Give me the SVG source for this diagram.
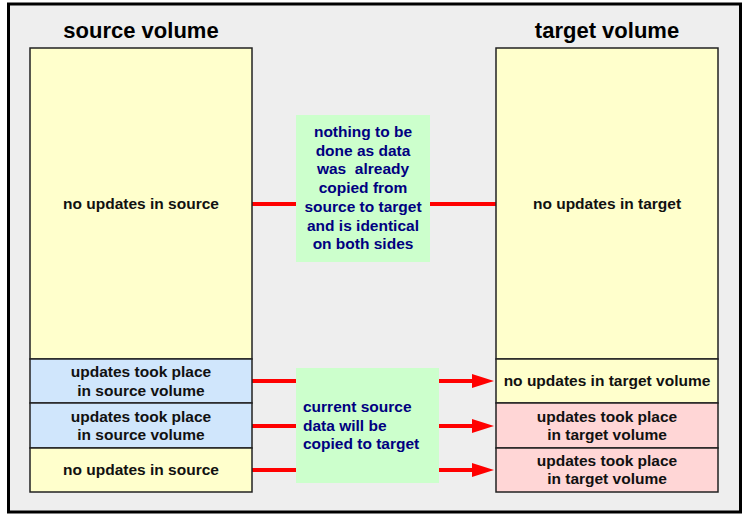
<svg xmlns="http://www.w3.org/2000/svg" width="743" height="514" viewBox="0 0 743 514">
<style>
.title{font-family:"Liberation Sans",Arial,sans-serif;font-size:22px;font-weight:bold;fill:#000;text-anchor:middle}
.cell{stroke:#222;stroke-width:1.5}
.y{fill:#ffffcc}.b{fill:#d0e6fc}.p{fill:#ffd6d6}.g{fill:#ccffcc}
.t{font-family:"Liberation Sans",Arial,sans-serif;font-size:15.5px;font-weight:bold;fill:#111;text-anchor:middle}
.n{font-family:"Liberation Sans",Arial,sans-serif;font-size:15.5px;font-weight:bold;fill:#000080}
.c{text-anchor:middle}
.line{stroke:#ff0000;stroke-width:4;fill:none}
</style>
<defs>
<marker id="ah" markerUnits="userSpaceOnUse" markerWidth="22" markerHeight="14" refX="2" refY="7" orient="auto">
<path d="M0,0 L22,7 L0,14 z" fill="#ff0000"/>
</marker>
</defs>
<rect x="8.5" y="4" width="732" height="508" fill="#eeeeee" stroke="#000" stroke-width="3"/>
<text class="title" x="141" y="38">source volume</text>
<text class="title" x="607" y="38">target volume</text>
<g id="connectors">
<line class="line" x1="252" y1="204" x2="496" y2="204"/>
<line class="line" x1="252" y1="381" x2="300" y2="381"/>
<line class="line" x1="252" y1="426" x2="300" y2="426"/>
<line class="line" x1="252" y1="470" x2="300" y2="470"/>
<line class="line" x1="436" y1="381" x2="474" y2="381" marker-end="url(#ah)"/>
<line class="line" x1="436" y1="426" x2="474" y2="426" marker-end="url(#ah)"/>
<line class="line" x1="436" y1="470" x2="474" y2="470" marker-end="url(#ah)"/>
</g>
<g id="src1"><rect class="cell y" x="30" y="48" width="222" height="311"/><text class="t" x="141" y="209">no updates in source</text></g>
<g id="src2"><rect class="cell b" x="30" y="359" width="222" height="44"/><text class="t" x="141" y="377">updates took place</text><text class="t" x="141" y="395.5">in source volume</text></g>
<g id="src3"><rect class="cell b" x="30" y="403" width="222" height="45"/><text class="t" x="141" y="421.5">updates took place</text><text class="t" x="141" y="440">in source volume</text></g>
<g id="src4"><rect class="cell y" x="30" y="448" width="222" height="44"/><text class="t" x="141" y="474.5">no updates in source</text></g>
<g id="tgt1"><rect class="cell y" x="496" y="48" width="222" height="311"/><text class="t" x="607" y="209">no updates in target</text></g>
<g id="tgt2"><rect class="cell y" x="496" y="359" width="222" height="44"/><text class="t" x="607" y="386">no updates in target volume</text></g>
<g id="tgt3"><rect class="cell p" x="496" y="403" width="222" height="45"/><text class="t" x="607" y="421.5">updates took place</text><text class="t" x="607" y="440">in target volume</text></g>
<g id="tgt4"><rect class="cell p" x="496" y="448" width="222" height="44"/><text class="t" x="607" y="466">updates took place</text><text class="t" x="607" y="484">in target volume</text></g>
<g id="note1"><rect class="g" x="296" y="115" width="134" height="147"/>
<text class="n c" x="363"><tspan x="363" y="137">nothing to be</tspan><tspan x="363" y="155.7">done as data</tspan><tspan x="363" y="174.4">was&#160; already</tspan><tspan x="363" y="193.1">copied from</tspan><tspan x="363" y="211.8">source to target</tspan><tspan x="363" y="230.5">and is identical</tspan><tspan x="363" y="249.2">on both sides</tspan></text></g>
<g id="note2"><rect class="g" x="296" y="368" width="143" height="115"/>
<text class="n" x="303"><tspan x="303" y="411.7">current source</tspan><tspan x="303" y="430.5">data will be</tspan><tspan x="303" y="449.3">copied to target</tspan></text></g>
</svg>
